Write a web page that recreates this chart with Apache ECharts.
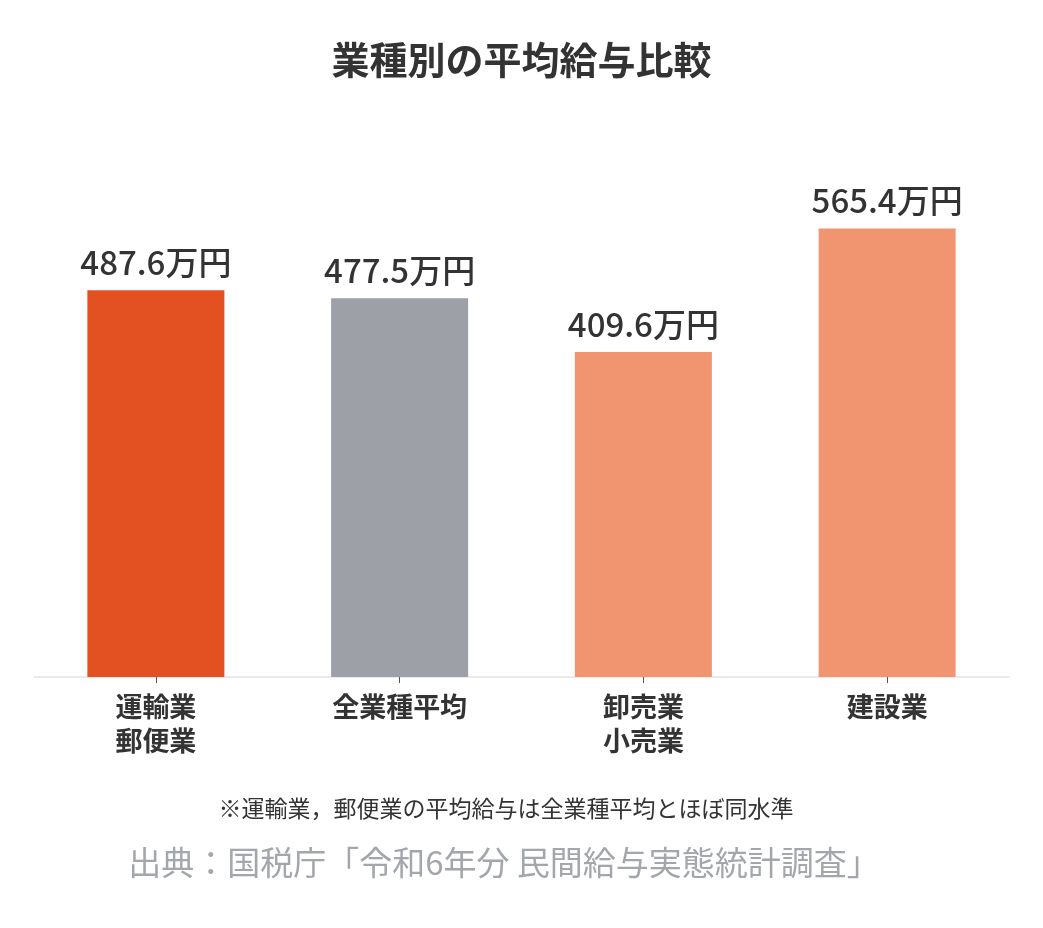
<!DOCTYPE html>
<html>
<head>
<meta charset="utf-8">
<script src="https://cdn.jsdelivr.net/npm/echarts@6/dist/echarts.min.js"></script>
<style>
  html, body { margin: 0; padding: 0; background: #fff; }
  #main { width: 1043px; height: 928px; }
</style>
</head>
<body>
<div id="main"></div>
<script>
// 業種
var categories = ['運輸業\n郵便業', '全業種平均', '卸売業\n小売業', '建設業'];
// 平均給与（万円）
var salaries = [487.6, 477.5, 409.6, 565.4];
var barColors = ['#E35122', '#9DA0A7', '#F19571', '#F19571'];

var FONT = '"Noto Sans CJK JP", "Noto Sans", sans-serif';

var myChart = echarts.init(document.getElementById('main'));
var option = {
    backgroundColor: '#fff',
    title: {
        text: '業種別の平均給与比較',
        left: 'center',
        top: 36,
        textStyle: { fontFamily: FONT, fontSize: 38, fontWeight: 'bold', color: '#333' }
    },
    grid: { left: 34, right: 34, top: 201, bottom: 251 },
    xAxis: {
        type: 'category',
        data: categories,
        axisLine: { lineStyle: { color: '#e3e3e6', width: 1.5 } },
        axisTick: { show: true, alignWithLabel: true, length: 6, lineStyle: { color: '#555' } },
        axisLabel: {
            fontFamily: FONT, fontSize: 27, fontWeight: 'bold', color: '#333',
            lineHeight: 34, margin: 13
        }
    },
    yAxis: {
        type: 'value',
        min: 0,
        max: 600,
        show: false,
        splitLine: { show: false }
    },
    series: [{
        type: 'bar',
        barWidth: 137,
        data: salaries.map(function (v, i) {
            return { value: v, itemStyle: { color: barColors[i] } };
        }),
        label: {
            show: true,
            position: 'top',
            distance: 11,
            fontFamily: FONT,
            fontSize: 33,
            fontWeight: 500,
            color: '#333',
            formatter: function (p) { return p.value.toFixed(1) + '万円'; }
        }
    }],
    graphic: [
        {
            type: 'text', x: 506, y: 797,
            style: {
                text: '※運輸業，郵便業の平均給与は全業種平均とほぼ同水準',
                font: '23px ' + FONT, fill: '#333', textAlign: 'center'
            }
        },
        {
            type: 'text', x: 504, y: 846,
            style: {
                text: '出典：国税庁「令和6年分 民間給与実態統計調査」',
                font: '33px ' + FONT, fill: '#a3a6ab', textAlign: 'center'
            }
        }
    ]
};
if (option && typeof option === "object") {
    myChart.setOption(option, true);
}
</script>
</body>
</html>
